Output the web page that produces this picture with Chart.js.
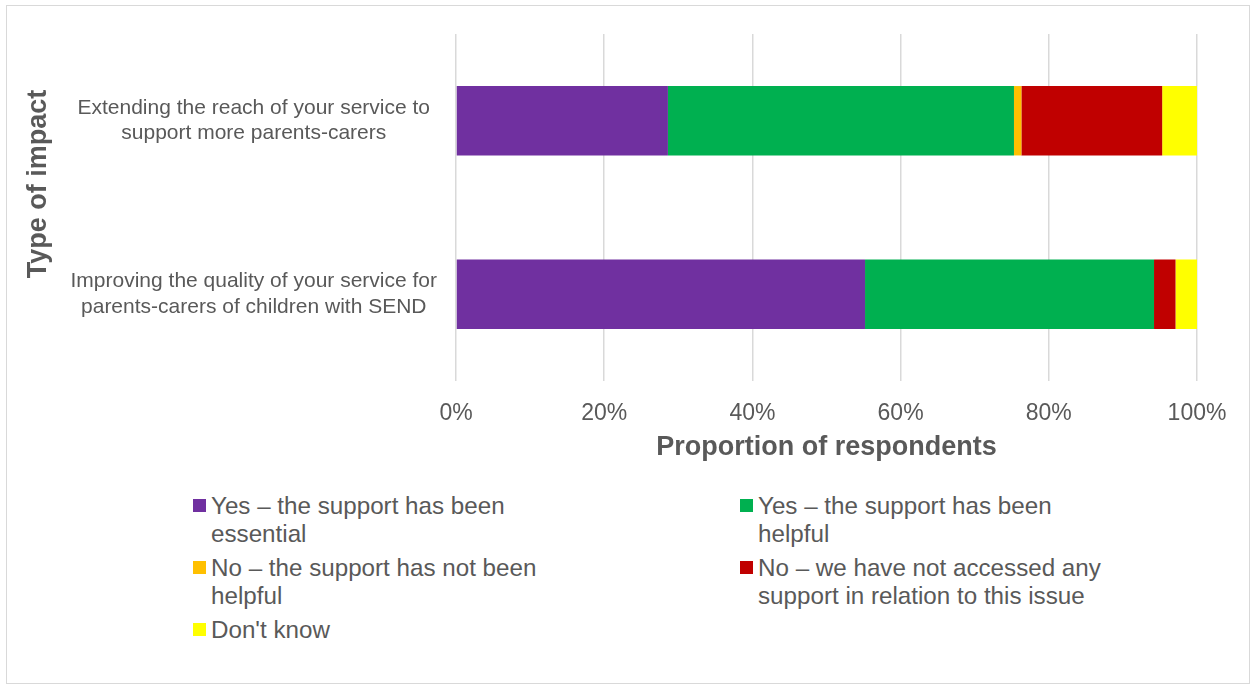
<!DOCTYPE html>
<html>
<head>
<meta charset="utf-8">
<title>Type of impact</title>
<script src="https://cdn.jsdelivr.net/npm/chart.js@4/dist/chart.umd.min.js"></script>
<style>
    html, body { margin: 0; padding: 0; background: #fff; }
    #wrap { position: relative; width: 1254px; height: 688px; font-family: "Liberation Sans", Arial, sans-serif; color: #595959; }
    #frame { position: absolute; left: 6px; top: 5px; width: 1242px; height: 677px; border: 1px solid #d9d9d9; }
    #chartBox { position: absolute; left: 0; top: 0; width: 1254px; height: 480px; }
    .lg-item { position: absolute; width: 380px; }
    .lg-box { position: absolute; left: 0; top: 6px; width: 13px; height: 13px; }
    .lg-text { position: absolute; left: 18px; top: -1px; width: 362px; font-size: 24.2px; line-height: 28px; }
</style>
</head>
<body>
<div id="wrap">
    <div id="frame"></div>
    <div id="chartBox"><canvas id="chart" width="1254" height="480"></canvas></div>
    <div id="legend"></div>
</div>
<script>
    // ------------------------------------------------------------------
    // Data
    // ------------------------------------------------------------------
    var CATEGORIES = [
        ['Extending the reach of your service to', 'support more parents-carers'],
        ['Improving the quality of your service for', 'parents-carers of children with SEND']
    ];
    var SERIES_LABELS = [
        'Yes \u2013 the support has been essential',
        'Yes \u2013 the support has been helpful',
        'No \u2013 the support has not been helpful',
        'No \u2013 we have not accessed any support in relation to this issue',
        "Don't know"
    ];
    var SERIES_COLORS = ['#7030A0', '#00B050', '#FFC000', '#C00000', '#FFFF00'];

    // % of respondents, per category (Extending, Improving)
    var ESSENTIAL    = [28.6, 55.2];
    var HELPFUL      = [46.7, 39.0];
    var NOT_HELPFUL  = [1.0, 0];
    var NOT_ACCESSED = [19.0, 2.9];
    var DONT_KNOW    = [4.7, 2.9];

    var X_TICKS = [0, 20, 40, 60, 80, 100];
    var X_TITLE = 'Proportion of respondents';
    var Y_TITLE = 'Type of impact';

    var TEXT = '#595959';
    var GRID = '#d9d9d9';
    var FONT = '"Liberation Sans", Arial, sans-serif';

    var SERIES_VALUES = [ESSENTIAL, HELPFUL, NOT_HELPFUL, NOT_ACCESSED, DONT_KNOW];

    // y axis title drawn by hand (Excel puts it off-centre)
    var yTitlePlugin = {
        id: 'yTitle',
        afterDraw: function (chart) {
            var ctx = chart.ctx;
            ctx.save();
            ctx.translate(39, 184);
            ctx.rotate(-Math.PI / 2);
            ctx.font = 'bold 27px ' + FONT;
            ctx.fillStyle = TEXT;
            ctx.textAlign = 'center';
            ctx.textBaseline = 'middle';
            ctx.fillText(Y_TITLE, 0, 0);
            ctx.restore();
        }
    };

    var chart = new Chart(document.getElementById('chart'), {
        type: 'bar',
        data: {
            labels: CATEGORIES,
            datasets: SERIES_LABELS.map(function (label, i) {
                return {
                    label: label,
                    data: SERIES_VALUES[i],
                    backgroundColor: SERIES_COLORS[i],
                    borderWidth: 0,
                    barPercentage: 0.4,
                    categoryPercentage: 1.0
                };
            })
        },
        options: {
            indexAxis: 'y',
            responsive: false,
            animation: false,
            layout: { padding: { top: 34, right: 57, bottom: 0, left: 0 } },
            plugins: {
                legend: { display: false },
                tooltip: { enabled: false }
            },
            scales: {
                x: {
                    stacked: true,
                    min: 0,
                    max: 100,
                    afterBuildTicks: function (s) {
                        s.ticks = X_TICKS.map(function (v) { return { value: v }; });
                    },
                    ticks: {
                        color: TEXT,
                        font: { family: FONT, size: 23 },
                        padding: 19,
                        maxRotation: 0,
                        callback: function (v) { return v + '%'; }
                    },
                    grid: { color: GRID, lineWidth: 1.5, drawTicks: false },
                    border: { display: false },
                    title: {
                        display: true,
                        text: X_TITLE,
                        color: TEXT,
                        font: { family: FONT, size: 27, weight: 'bold' },
                        padding: { top: 0, bottom: 16 }
                    },
                    afterFit: function (s) {
                        s.height = 99;
                        s.paddingLeft = 0;
                        s.paddingRight = 0;
                    }
                },
                y: {
                    stacked: true,
                    ticks: {
                        color: TEXT,
                        crossAlign: 'center',
                        padding: 19,
                        font: { family: FONT, size: 21, lineHeight: 1.2 }
                    },
                    grid: { display: false, drawTicks: false },
                    border: { display: false },
                    afterFit: function (s) {
                        s.width = 456;
                        s.paddingTop = 0;
                        s.paddingBottom = 0;
                    }
                }
            }
        },
        plugins: [yTitlePlugin]
    });

    // ------------------------------------------------------------------
    // Legend — two columns, wrapped text like Excel
    // ------------------------------------------------------------------
    var LEGEND_X = [193, 740];
    var LEGEND_Y = [493, 555, 617];
    var legendEl = document.getElementById('legend');
    chart.data.datasets.forEach(function (ds, i) {
        var item = document.createElement('div');
        item.className = 'lg-item';
        item.style.left = LEGEND_X[i % 2] + 'px';
        item.style.top = LEGEND_Y[Math.floor(i / 2)] + 'px';
        item.innerHTML = '<div class="lg-box" style="background:' + ds.backgroundColor + '"></div>'
            + '<div class="lg-text">' + ds.label + '</div>';
        legendEl.appendChild(item);
    });
</script>
</body>
</html>
